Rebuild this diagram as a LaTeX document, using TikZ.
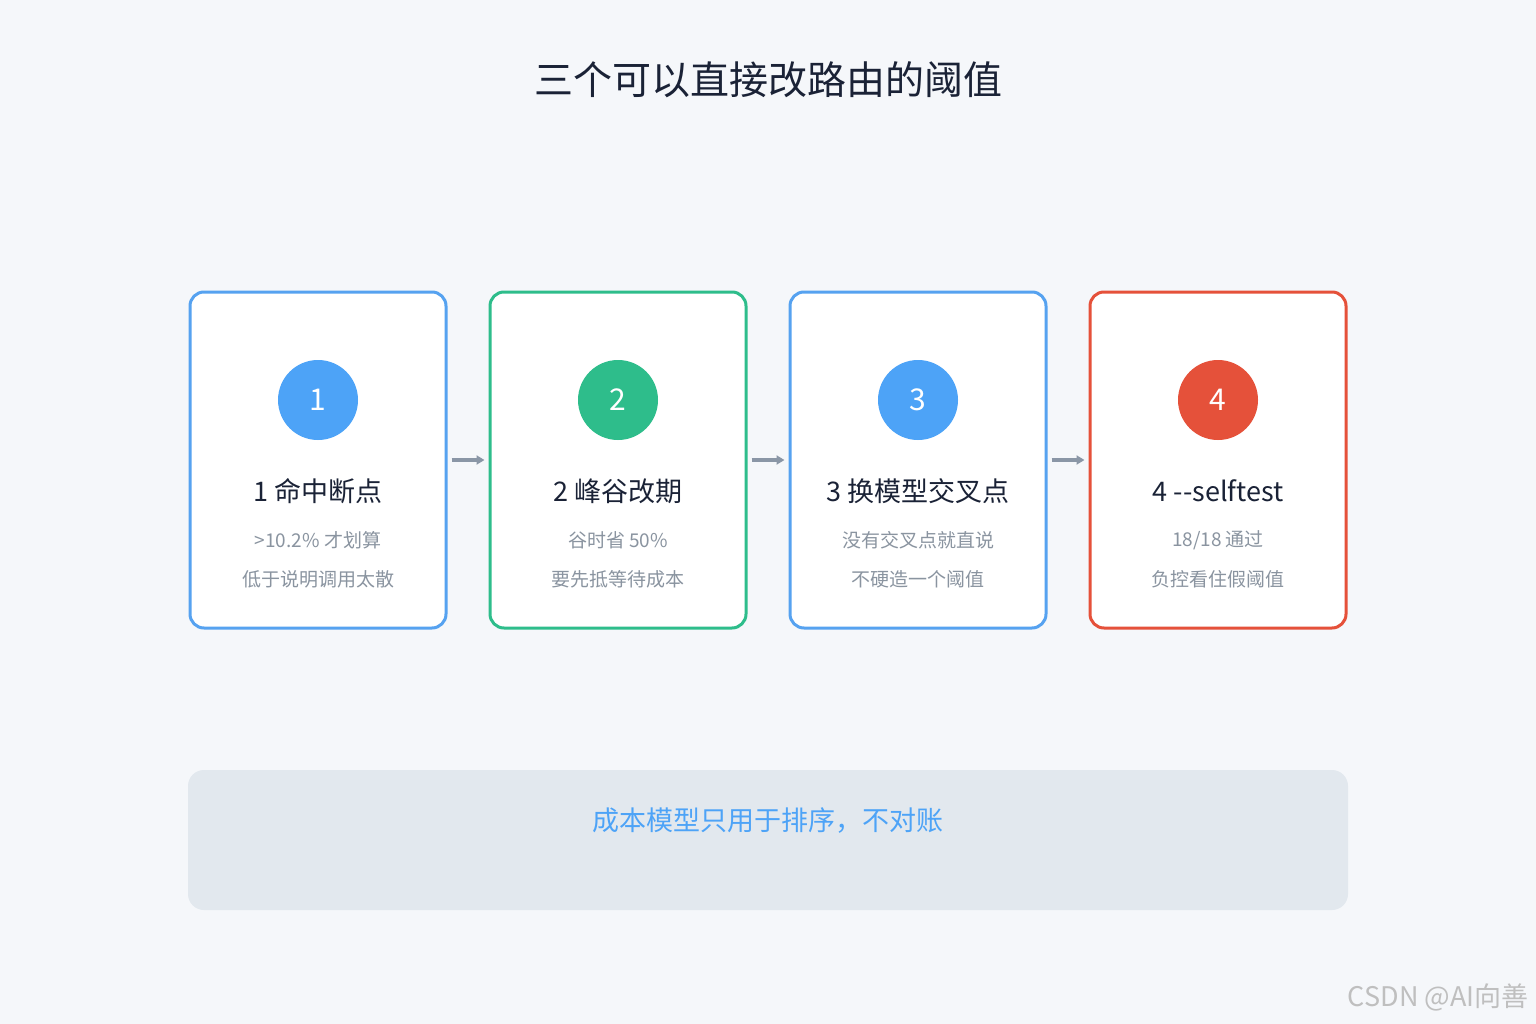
\documentclass[tikz,border=0pt]{standalone}
\usepackage{fontspec}
\setmainfont{Noto Sans CJK SC}
\usetikzlibrary{arrows.meta}
\definecolor{bg}{HTML}{F5F7FA}
\definecolor{cblue}{HTML}{4DA3F7}
\definecolor{bblue}{HTML}{56A2F0}
\definecolor{cgreen}{HTML}{2EBD8B}
\definecolor{cred}{HTML}{E5513A}
\definecolor{ttl}{HTML}{1A2236}
\definecolor{sub}{HTML}{8A94A0}
\definecolor{note}{HTML}{E2E8EE}
\definecolor{arr}{HTML}{8A96A6}
\begin{document}
\begin{tikzpicture}[x=1pt,y=-1pt,
 card/.style={draw=#1,line width=3pt,fill=white,rounded corners=14pt,minimum width=256pt,minimum height=336pt,inner sep=0},
 circ/.style={circle,fill=#1,minimum size=80pt,inner sep=0,text=white,font=\fontsize{30}{30}\selectfont},
 head/.style={text=ttl,font=\fontsize{27}{27}\selectfont},
 sm/.style={text=sub,font=\fontsize{19}{19}\selectfont},
 link/.style={draw=arr,line width=4pt,-{Triangle[length=8pt,width=9pt]}}]
\fill[bg] (0,0) rectangle (1536,1024);
\useasboundingbox (0,0) rectangle (1536,1024);
\node[text=ttl,font=\fontsize{39}{39}\selectfont] (title) at (768,80) {三个可以直接改路由的阈值};
\foreach \i/\c/\cc/\t/\a/\b in {0/bblue/cblue/{1 命中断点}/{>10.2\% 才划算}/{低于说明调用太散},
 1/cgreen/cgreen/{2 峰谷改期}/{谷时省 50\%}/{要先抵等待成本},
 2/bblue/cblue/{3 换模型交叉点}/{没有交叉点就直说}/{不硬造一个阈值},
 3/cred/cred/{4 -{}-selftest}/{18/18 通过}/{负控看住假阈值}}{
 \pgfmathsetmacro\x{318+300*\i}
 \node[card=\c] (card\i) at (\x,460) {};
 \node[circ=\cc] (c\i) at (\x,400) {\pgfmathparse{int(\i+1)}\pgfmathresult};
 \node[head] (h\i) at (\x,491) {\t};
 \node[sm] (a\i) at (\x,540) {\a};
 \node[sm] (b\i) at (\x,579) {\b};
}
\foreach \i/\j in {0/1,1/2,2/3}{
 \draw[link] ([xshift=4pt]card\i.east) -- ([xshift=-4pt]card\j.west);
}
\node[fill=note,rounded corners=16pt,minimum width=1160pt,minimum height=140pt] (note) at (768,840) {};
\node[text=cblue,font=\fontsize{27}{27}\selectfont] (nt) at (768,821) {成本模型只用于排序，不对账};
\node[text=black!25,font=\fontsize{27}{27}\selectfont,anchor=east] (wm) at (1532,997) {CSDN @AI向善};
\end{tikzpicture}
\end{document}
